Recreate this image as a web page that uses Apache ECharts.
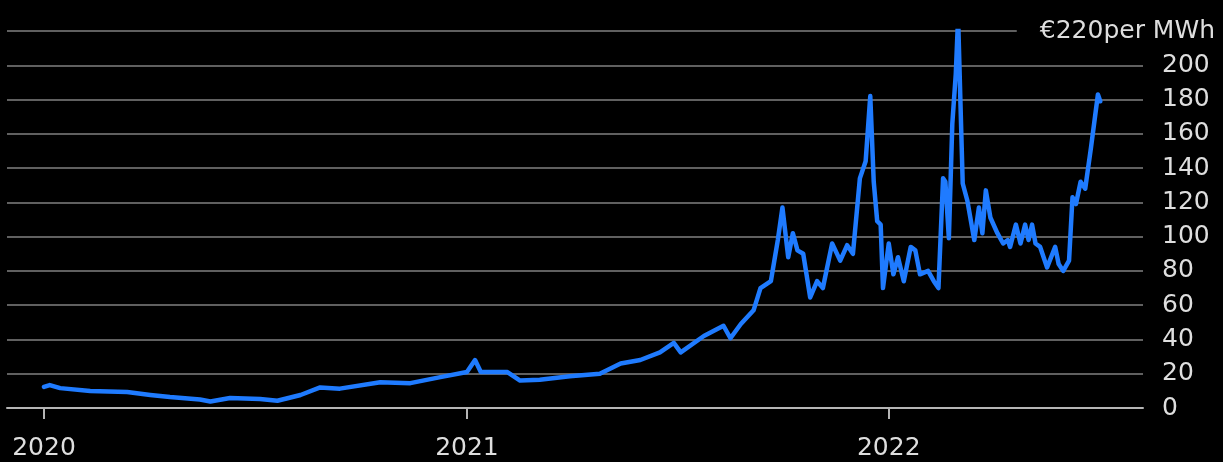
<!DOCTYPE html>
<html>
<head>
<meta charset="utf-8">
<script src="https://cdn.jsdelivr.net/npm/echarts@6/dist/echarts.min.js"></script>
<style>
html,body{margin:0;padding:0;background:#000;}
#chart{width:1223px;height:462px;}
</style>
</head>
<body>
<div id="chart"></div>
<script>
var dates = [
'2020-01-01','2020-01-06','2020-01-15','2020-02-10','2020-03-13','2020-04-02','2020-04-19','2020-05-15','2020-05-24','2020-06-10',
'2020-07-06','2020-07-21','2020-08-10','2020-08-27','2020-09-13','2020-10-18','2020-11-13','2020-12-09','2021-01-01','2021-01-08',
'2021-01-13','2021-02-05','2021-02-16','2021-03-05','2021-03-31','2021-04-26','2021-05-14','2021-05-31','2021-06-17','2021-06-29',
'2021-07-05','2021-07-25','2021-08-11','2021-08-17','2021-08-26','2021-09-06','2021-09-12','2021-09-21','2021-09-27','2021-10-01',
'2021-10-06','2021-10-10','2021-10-14','2021-10-19','2021-10-25','2021-10-31','2021-11-05','2021-11-13','2021-11-20','2021-11-26',
'2021-12-01','2021-12-07','2021-12-12','2021-12-16','2021-12-19','2021-12-22','2021-12-25','2021-12-27','2022-01-01','2022-01-05',
'2022-01-09','2022-01-14','2022-01-20','2022-01-24','2022-01-28','2022-02-04','2022-02-09','2022-02-13','2022-02-17','2022-02-19',
'2022-02-22','2022-02-25','2022-02-28','2022-03-02','2022-03-04','2022-03-06','2022-03-10','2022-03-16','2022-03-20','2022-03-23',
'2022-03-26','2022-03-30','2022-04-05','2022-04-10','2022-04-14','2022-04-16','2022-04-21','2022-04-25','2022-04-29','2022-05-02',
'2022-05-05','2022-05-08','2022-05-12','2022-05-18','2022-05-25','2022-05-28','2022-06-01','2022-06-06','2022-06-09','2022-06-12',
'2022-06-16','2022-06-20','2022-06-25','2022-07-01','2022-07-03'
];
var prices = [
12.3,13.4,11.6,9.9,9.3,7.6,6.4,5.0,3.8,5.8,
5.2,4.2,7.6,12.0,11.3,15,14.5,18,21,28,
21,21,16,16.5,18.5,20,26,28,32.5,38,
32.5,42,48,40.7,49,57,70,74,98,117,
88,102,92,90,64.5,74,70,96,86,95,
90,134,144,182,132,109,107,70,96,78,
88,74,94,92,78,80,74,70,134,132,
99,166,195,228,179,131,121,98,117,102,
127,111,102,96,98,94,107,96,107,98,
107,96,94,82,94,84,80,86,123,119,
132,128,152,183,179
];
var yTicks = [0,20,40,60,80,100,120,140,160,180,200,220];
var topLabel = '€220per MWh';
var xMin = '2019-11-30', xMax = '2022-08-09';

var seriesData = dates.map(function(d,i){ return [d, prices[i]]; });
var FONT = 'DejaVu Sans';
var chart = echarts.init(document.getElementById('chart'));
chart.setOption({
  backgroundColor:'#000',
  animation:false,
  grid:{left:7,right:80,top:31,bottom:54,containLabel:false},
  xAxis:{
    type:'time', min:xMin, max:xMax,
    minInterval:365*24*3600*1000, maxInterval:366*24*3600*1000,
    axisLine:{show:true,lineStyle:{color:'#b5b5b5',width:2}},
    axisTick:{show:true,length:11,lineStyle:{color:'#b5b5b5',width:2}},
    splitLine:{show:false},
    axisLabel:{color:'#dedede',fontSize:25,fontFamily:FONT,margin:28,
      showMinLabel:false,showMaxLabel:false,
      formatter:function(v){ return String(new Date(v).getFullYear()); }}
  },
  yAxis:[{
    type:'value', position:'right', min:yTicks[0], max:yTicks[yTicks.length-1], interval:20,
    axisLine:{show:false}, axisTick:{show:false},
    splitLine:{show:true,lineStyle:{color:'#606060',width:2}},
    axisLabel:{color:'#dedede',fontSize:25,fontFamily:FONT,margin:19,
      formatter:function(v){ return v===220 ? '' : String(v); }}
  },{
    type:'value', position:'right', min:0, max:220, interval:220,
    axisLine:{show:false}, axisTick:{show:false}, splitLine:{show:false},
    axisLabel:{color:'#dedede',fontSize:25,fontFamily:FONT,margin:72,align:'right',
      backgroundColor:'#000',padding:[5,0,5,23],
      formatter:function(v){ return v===220 ? topLabel : ''; }}
  }],
  series:[{
    type:'line', data:seriesData, yAxisIndex:0,
    showSymbol:false, symbol:'none',
    lineStyle:{color:'#1f7bff',width:4.5,join:'round',cap:'round'},
    z:5
  }]
});
</script>
</body>
</html>
